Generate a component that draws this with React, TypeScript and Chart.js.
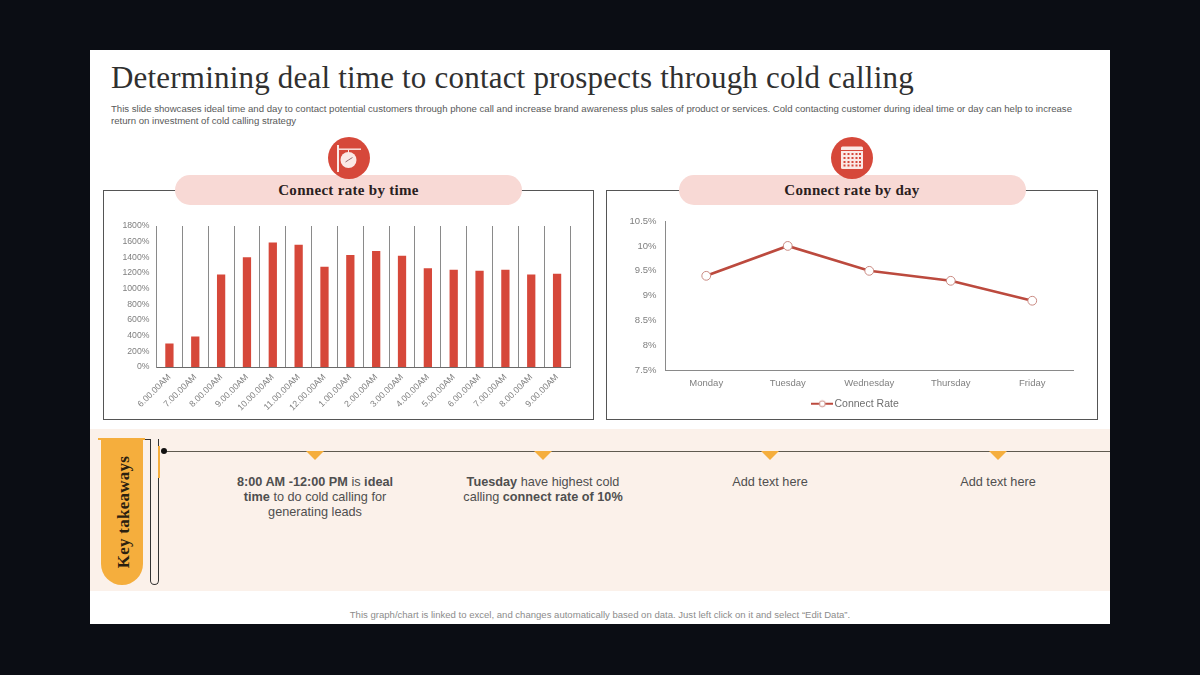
import React, { useEffect, useRef } from 'react';
import Chart from 'chart.js/auto';

const timeLabels = ['6.00.00AM', '7.00.00AM', '8.00.00AM', '9.00.00AM', '10.00.00AM', '11.00.00AM', '12.00.00AM', '1.00.00AM', '2.00.00AM', '3.00.00AM', '4.00.00AM', '5.00.00AM', '6.00.00AM', '7.00.00AM', '8.00.00AM', '9.00.00AM'];
const timeRates = [300, 390, 1180, 1400, 1590, 1560, 1280, 1430, 1480, 1420, 1260, 1240, 1230, 1240, 1180, 1190];
const dayLabels = ['Monday', 'Tuesday', 'Wednesday', 'Thursday', 'Friday'];
const dayRates = [9.4, 10, 9.5, 9.3, 8.9];

const SANS = '"Liberation Sans", Arial, sans-serif';
const SERIF = '"Liberation Serif", serif';
const RED = '#D6483A';
const LINE_RED = '#BC4A3E';
const TICK_GREY = '#7F7F7F';

// little line + circle sample for the legend, like the PowerPoint one
function legendMarker() {
    const c = document.createElement('canvas');
    c.width = 22;
    c.height = 10;
    const ctx = c.getContext('2d')!;
    ctx.strokeStyle = LINE_RED;
    ctx.lineWidth = 2;
    ctx.beginPath();
    ctx.moveTo(0, 5);
    ctx.lineTo(22, 5);
    ctx.stroke();
    ctx.beginPath();
    ctx.arc(11, 5, 3, 0, Math.PI * 2);
    ctx.fillStyle = '#fff';
    ctx.fill();
    ctx.lineWidth = 1;
    ctx.strokeStyle = '#C98A82';
    ctx.stroke();
    return c;
}

// chart.js centres the legend on the canvas, the slide has it a bit further right
const legendNudge = {
    id: 'legendNudge',
    afterLayout(chart: any) {
        chart.legend.left += 17;
        chart.legend.right += 17;
    },
};

const TimeChart: React.FC = () => {
    const canvasRef = useRef<HTMLCanvasElement>(null);

    useEffect(() => {
        const ctx = canvasRef.current?.getContext('2d');
        if (!ctx) return;
        const chart = new Chart(ctx, {
            type: 'bar',
            data: {
                labels: timeLabels,
                datasets: [{ label: 'Connect Rate', data: timeRates, backgroundColor: RED, barPercentage: 0.32, categoryPercentage: 1 }],
            },
            options: {
                responsive: false,
                animation: false,
                layout: { padding: { top: 20, right: 23 } },
                plugins: { legend: { display: false }, tooltip: { enabled: false } },
                scales: {
                    x: {
                        afterFit: (scale: any) => { scale.height = 52; },
                        grid: { color: '#8A8A8A', lineWidth: 1, drawTicks: false },
                        border: { color: '#6A6A6A' },
                        ticks: { color: TICK_GREY, font: { family: SANS, size: 8.8 }, minRotation: 45, maxRotation: 45, autoSkip: false, padding: 5 },
                    },
                    y: {
                        min: 0,
                        max: 1800,
                        afterFit: (scale: any) => { scale.width = 52.5; },
                        grid: { display: false, drawTicks: false },
                        border: { color: '#8A8A8A' },
                        ticks: { stepSize: 200, color: TICK_GREY, font: { family: SANS, size: 8.7 }, padding: 7, callback: (v: any) => `${v}%` },
                    },
                },
            },
        });
        return () => chart.destroy();
    }, []);

    return <canvas ref={canvasRef} width={489} height={213} style={{ position: 'absolute', left: 104, top: 206 }} />;
};

const DayChart: React.FC = () => {
    const canvasRef = useRef<HTMLCanvasElement>(null);

    useEffect(() => {
        const ctx = canvasRef.current?.getContext('2d');
        if (!ctx) return;
        const marker = legendMarker();
        const chart = new Chart(ctx, {
            type: 'line',
            data: {
                labels: dayLabels,
                datasets: [{
                    label: 'Connect Rate',
                    data: dayRates,
                    borderColor: LINE_RED,
                    borderWidth: 2.6,
                    tension: 0,
                    pointRadius: 4.4,
                    pointBackgroundColor: '#fff',
                    pointBorderColor: '#C98A82',
                    pointBorderWidth: 1,
                }],
            },
            options: {
                responsive: false,
                animation: false,
                layout: { padding: { top: 15, right: 24 } },
                plugins: {
                    tooltip: { enabled: false },
                    legend: {
                        position: 'bottom',
                        labels: {
                            usePointStyle: true,
                            pointStyleWidth: 14,
                            padding: 10,
                            color: '#6F6F6F',
                            font: { family: SANS, size: 10.5 },
                            generateLabels: () => [{ text: 'Connect Rate', pointStyle: marker, fontColor: '#6F6F6F', lineWidth: 0, datasetIndex: 0 } as any],
                        },
                    },
                },
                scales: {
                    x: {
                        offset: true,
                        afterFit: (scale: any) => { scale.height = 18; },
                        grid: { display: false, drawTicks: false },
                        border: { color: '#8A8A8A' },
                        ticks: { color: TICK_GREY, font: { family: SANS, size: 9.5 }, padding: 7, maxRotation: 0 },
                    },
                    y: {
                        min: 7.5,
                        max: 10.5,
                        afterFit: (scale: any) => { scale.width = 58.5; },
                        grid: { display: false, drawTicks: false },
                        border: { color: '#8A8A8A' },
                        ticks: { stepSize: 0.5, color: TICK_GREY, font: { family: SANS, size: 9.5 }, padding: 9, callback: (v: any) => `${v}%` },
                    },
                },
            },
            plugins: [legendNudge],
        });
        return () => chart.destroy();
    }, []);

    return <canvas ref={canvasRef} width={490} height={213} style={{ position: 'absolute', left: 607, top: 206 }} />;
};

const ClockIcon = () => (
    <svg width="42" height="42" viewBox="0 0 42 42" style={{ display: 'block' }}>
        <circle cx="21" cy="21" r="21" fill={RED} />
        <rect x="9" y="8" width="2" height="27" fill="#FBE9E6" />
        <rect x="9" y="11.5" width="24" height="1.4" fill="#FBE9E6" />
        <rect x="20" y="13" width="1" height="3" fill="#FBE9E6" />
        <circle cx="20.5" cy="23" r="8" fill="#FBE9E6" />
        <path d="M20.5 23 L24.5 20.5 M20.5 23 L17.5 25" stroke="#7A4A50" strokeWidth="0.8" />
    </svg>
);

const CalendarIcon = () => (
    <svg width="42" height="42" viewBox="0 0 42 42" style={{ display: 'block' }}>
        <circle cx="21" cy="21" r="21" fill={RED} />
        <rect x="10" y="9.5" width="22" height="22.5" rx="1.5" fill="#FBE9E6" />
        <rect x="10" y="13" width="22" height="1" fill={RED} />
        {[13.5, 17.5, 21.5, 25.5, 29].map((x) =>
            [17, 21, 25, 28.5].map((y) => <rect key={`${x}-${y}`} x={x - 1} y={y - 1} width="2" height="2" fill={RED} />),
        )}
    </svg>
);

const Panel = ({ left, width, pill, title, icon }: any) => (
    <>
        <div style={{ position: 'absolute', left, top: 190, width, height: 230, boxSizing: 'border-box', border: '1.5px solid #555' }} />
        <div style={{ position: 'absolute', left: pill, top: 175, width: 347, height: 30, borderRadius: 15, background: '#F8D9D5', textAlign: 'center', font: `bold 15px/30px ${SERIF}`, color: '#2A2020', letterSpacing: 0.3 }}>
            {title}
        </div>
        <div style={{ position: 'absolute', left: pill + 152.5, top: 137 }}>{icon}</div>
    </>
);

const Takeaway = ({ x, children }: any) => (
    <div style={{ position: 'absolute', left: x - 100, top: 474.5, width: 200, textAlign: 'center', font: `12.7px/15.3px ${SANS}`, color: '#4F4F4F' }}>
        {children}
    </div>
);

const Notch = ({ x }: any) => (
    <div style={{ position: 'absolute', left: x - 9, top: 451, width: 0, height: 0, borderLeft: '9px solid transparent', borderRight: '9px solid transparent', borderTop: '9px solid #F5AE3D' }} />
);

export default function App() {
    return (
        <div style={{ position: 'fixed', left: 0, top: 0, width: 1200, height: 675, background: '#0B0D14', overflow: 'hidden' }}>
            <div style={{ position: 'absolute', left: 90, top: 50, width: 1020, height: 574, background: '#fff' }} />

            <div style={{ position: 'absolute', left: 111, top: 59, whiteSpace: 'nowrap', font: `31px/38px ${SERIF}`, color: '#303030', letterSpacing: 0.2 }}>
                Determining deal time to contact prospects through cold calling
            </div>
            <div style={{ position: 'absolute', left: 111, top: 103, whiteSpace: 'nowrap', font: `9.6px/12px ${SANS}`, color: '#595959' }}>
                This slide showcases ideal time and day to  contact potential customers through phone call and increase brand awareness plus sales of product or services. Cold contacting customer during ideal time or day can help to increase
                <br />
                return on investment of cold calling strategy
            </div>

            <Panel left={103} width={491} pill={175} title="Connect rate by time" icon={<ClockIcon />} />
            <Panel left={606} width={492} pill={678.5} title="Connect rate by day" icon={<CalendarIcon />} />
            <TimeChart />
            <DayChart />

            <div style={{ position: 'absolute', left: 90, top: 429, width: 1020, height: 162, background: '#FBF1EA' }} />
            <div style={{ position: 'absolute', left: 101, top: 439, width: 42, height: 146, background: '#F5AE3D', borderRadius: '0 0 21px 21px' }} />
            <div style={{ position: 'absolute', left: 98, top: 438, width: 47, height: 2, background: '#F5AE3D' }} />
            <div style={{ position: 'absolute', left: 150, top: 439, width: 9, height: 146, boxSizing: 'border-box', border: '1px solid #333', borderTop: 'none', borderRadius: '0 0 5px 5px' }} />
            <div style={{ position: 'absolute', left: 145, top: 439, width: 6, height: 1, background: '#333' }} />
            <div style={{ position: 'absolute', left: 158, top: 446, width: 2, height: 32, background: '#F5AE3D' }} />
            <div style={{ position: 'absolute', left: 124, top: 512, width: 0, height: 0 }}>
                <div style={{ position: 'absolute', left: -70, top: -10, width: 140, textAlign: 'center', transform: 'rotate(-90deg)', font: `bold 17px/20px ${SERIF}`, color: '#2A2010', letterSpacing: 0.25 }}>
                    Key takeaways
                </div>
            </div>

            <div style={{ position: 'absolute', left: 165, top: 450.5, width: 945, height: 1, background: '#5F5A50' }} />
            <div style={{ position: 'absolute', left: 161, top: 448, width: 6, height: 6, borderRadius: 3, background: '#111' }} />
            <Notch x={315} />
            <Notch x={543} />
            <Notch x={770} />
            <Notch x={998} />

            <Takeaway x={315}><b>8:00 AM -12:00 PM</b> is <b>ideal<br />time</b> to do cold calling for<br />generating leads</Takeaway>
            <Takeaway x={543}><b>Tuesday</b> have highest cold<br />calling <b>connect rate of 10%</b></Takeaway>
            <Takeaway x={770}>Add text here</Takeaway>
            <Takeaway x={998}>Add text here</Takeaway>

            <div style={{ position: 'absolute', left: 90, top: 609, width: 1020, textAlign: 'center', font: `9.55px/12px ${SANS}`, color: '#8C8C8C' }}>
                This graph/chart is linked to excel, and changes automatically based on data. Just left click on it and select “Edit Data”.
            </div>
        </div>
    );
}
